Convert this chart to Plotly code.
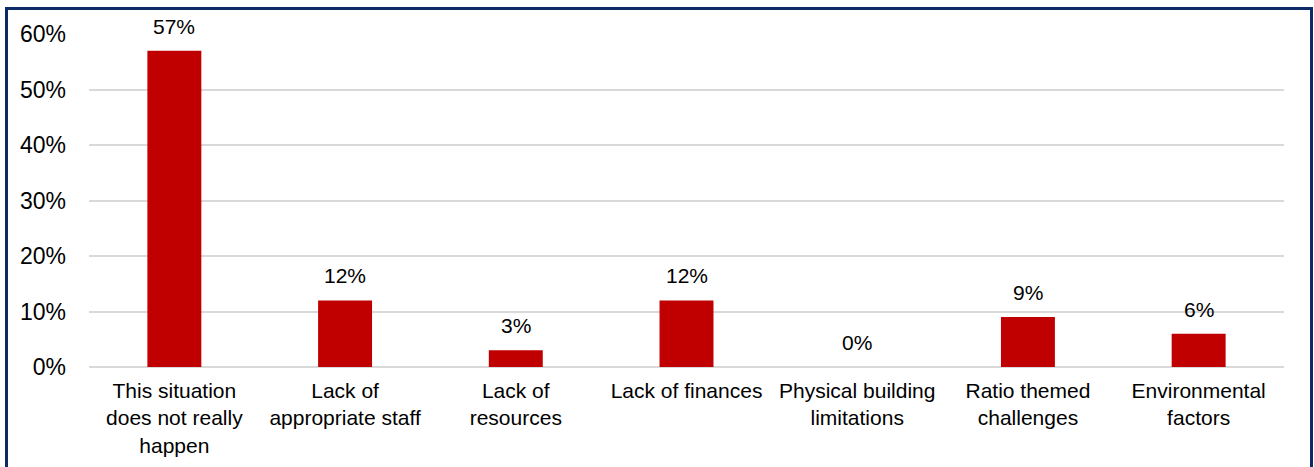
import plotly.graph_objects as go

categories = [
    "This situation<br>does not really<br>happen",
    "Lack of<br>appropriate staff",
    "Lack of<br>resources",
    "Lack of finances",
    "Physical building<br>limitations",
    "Ratio themed<br>challenges",
    "Environmental<br>factors",
]
values = [57, 12, 3, 12, 0, 9, 6]
tick_vals = [0, 10, 20, 30, 40, 50, 60]
tick_text = ["0%", "10%", "20%", "30%", "40%", "50%", "60%"]

W, H = 1314, 467
ml, mr, mt, mb = 89, 30, 34, 100
pw, ph = W - ml - mr, H - mt - mb

font = "Liberation Sans, Arial, sans-serif"

fig = go.Figure(
    go.Bar(
        x=categories,
        y=values,
        marker=dict(color="#C00000", line=dict(width=0)),
        hoverinfo="skip",
    )
)

for c, v in zip(categories, values):
    fig.add_annotation(
        x=c, y=v, text=f"{v}%", showarrow=False,
        yanchor="bottom", yshift=11,
        font=dict(family=font, size=21, color="#000000"),
    )

# outer frame around the whole chart
def px_x(p):
    return (p - ml) / pw

def px_y(p):
    return (H - mb - p) / ph

fig.add_shape(
    type="rect", xref="paper", yref="paper",
    x0=px_x(6.5), x1=px_x(1311.5), y0=px_y(H + 20), y1=px_y(8.5),
    line=dict(color="#0B2A66", width=3), fillcolor="rgba(0,0,0,0)",
    layer="above",
)

fig.update_layout(
    width=W, height=H,
    margin=dict(l=ml, r=mr, t=mt, b=mb, autoexpand=False),
    paper_bgcolor="white", plot_bgcolor="white",
    bargap=0.684,
    showlegend=False,
    font=dict(family=font, size=21, color="#000000"),
    xaxis=dict(
        showgrid=False, showline=False, ticks="",
        tickfont=dict(size=21, color="#000000"),
        ticklabelstandoff=9,
        automargin=False,
        fixedrange=True,
    ),
    yaxis=dict(
        range=[0, 60],
        tickvals=tick_vals, ticktext=tick_text,
        showgrid=True, gridcolor="#D9D9D9", gridwidth=1.5,
        zeroline=True, zerolinecolor="#D9D9D9", zerolinewidth=1.5,
        showline=False, ticks="",
        tickfont=dict(size=23, color="#000000"),
        ticklabelstandoff=22,
        automargin=False,
        fixedrange=True,
    ),
)

fig.write_html("out.html")
